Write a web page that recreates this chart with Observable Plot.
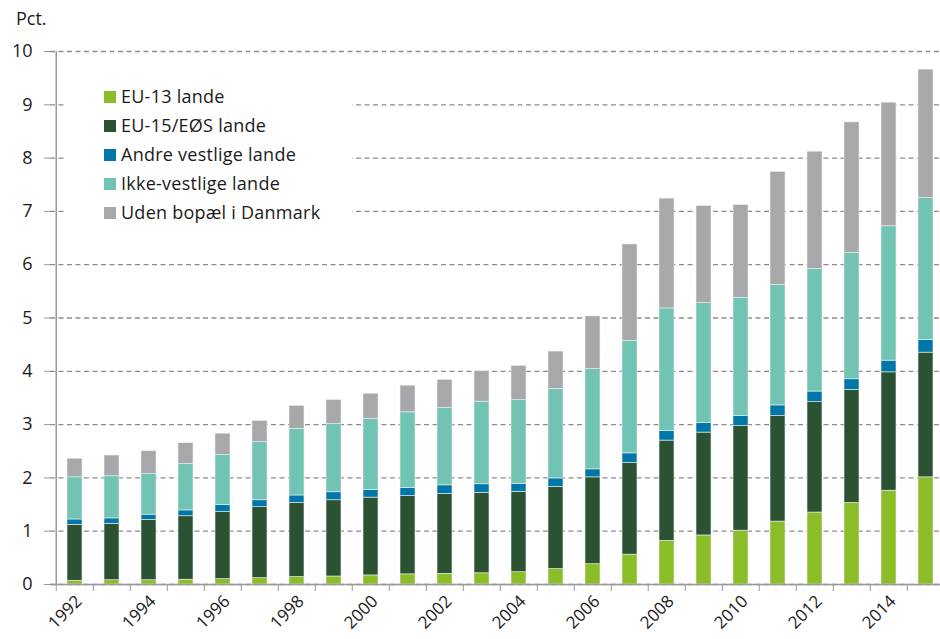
<!DOCTYPE html>
<html>
<head>
<meta charset="utf-8">
<script src="https://cdn.jsdelivr.net/npm/d3@7"></script>
<script src="https://cdn.jsdelivr.net/npm/@observablehq/plot@0.6"></script>
<style>
  html, body { margin: 0; padding: 0; background: #fff; }
  #wrap { position: relative; width: 940px; height: 639px; font-family: "Open Sans", sans-serif; color: #1a1a1a; }
  #pct { position: absolute; left: 16px; top: 6px; font-size: 18px; }
  #legend { position: absolute; left: 65px; top: 66px; width: 287px; height: 172px; background: #fff; }
  .row { position: absolute; left: 39px; font-size: 18px; line-height: 22px; white-space: nowrap; letter-spacing: 0.25px; }
  .sw { display: inline-block; width: 12px; height: 12px; margin-right: 5px; vertical-align: 0px; }
</style>
</head>
<body>
<div id="wrap"><div id="chart"></div><div id="pct">Pct.</div><div id="legend"></div></div>
<script>
const years = [1992,1993,1994,1995,1996,1997,1998,1999,2000,2001,2002,2003,2004,2005,2006,2007,2008,2009,2010,2011,2012,2013,2014,2015];
const eu13   = [0.07,0.08,0.08,0.09,0.10,0.12,0.14,0.15,0.17,0.19,0.20,0.21,0.23,0.29,0.38,0.56,0.82,0.92,1.01,1.18,1.35,1.53,1.76,2.01];
const eu15   = [1.05,1.06,1.13,1.19,1.26,1.33,1.39,1.43,1.46,1.47,1.50,1.51,1.51,1.54,1.63,1.72,1.88,1.93,1.96,1.98,2.07,2.12,2.22,2.34];
const andre  = [0.10,0.10,0.10,0.11,0.13,0.13,0.14,0.15,0.14,0.15,0.16,0.16,0.15,0.16,0.15,0.18,0.18,0.18,0.19,0.20,0.20,0.20,0.22,0.24];
const ikke   = [0.79,0.79,0.76,0.87,0.94,1.09,1.25,1.28,1.34,1.42,1.45,1.55,1.57,1.68,1.88,2.11,2.30,2.25,2.22,2.26,2.30,2.37,2.52,2.66];
const uden   = [0.35,0.39,0.43,0.39,0.40,0.40,0.43,0.45,0.47,0.50,0.53,0.57,0.64,0.70,0.99,1.81,2.06,1.82,1.74,2.12,2.20,2.45,2.32,2.41];
const seriesNames = ["EU-13 lande","EU-15/EØS lande","Andre vestlige lande","Ikke-vestlige lande","Uden bopæl i Danmark"];
const seriesColors = ["#8bbd28","#2c5234","#0077a8","#71c4b4","#a7a8aa"];
const yTicks = [0,1,2,3,4,5,6,7,8,9,10];
const labelYears = [1992,1994,1996,1998,2000,2002,2004,2006,2008,2010,2012,2014];

const seriesValues = [eu13, eu15, andre, ikke, uden];
const data = [];
seriesNames.forEach((s, si) => years.forEach((yr, i) => data.push({year: yr, series: s, value: seriesValues[si][i]})));

const chart = Plot.plot({
  width: 940, height: 639,
  marginTop: 51, marginBottom: 55, marginLeft: 50, marginRight: -10,
  style: {fontFamily: "'Open Sans', sans-serif", fontSize: "18px", color: "#1a1a1a", background: "transparent"},
  x: {type: "band", domain: years, paddingInner: 0.6, paddingOuter: 0.3, label: null},
  y: {domain: [0, 10], label: null},
  color: {domain: seriesNames, range: seriesColors},
  marks: [
    Plot.gridY(yTicks, {stroke: "#8c8c8c", strokeOpacity: 1, strokeWidth: 1.3, strokeDasharray: "5,3.5"}),
    Plot.barY(data, {x: "year", y: "value", fill: "series", order: seriesNames, stroke: "#eeeeee", strokeWidth: 0.6}),
    Plot.axisY(yTicks, {tickSize: 6, tickPadding: 12, stroke: "#999", fontSize: 18, tickFormat: d => String(d), label: null}),
    Plot.axisX(years, {tickSize: 7, tickFormat: () => "", dx: -18.75, stroke: "#999", label: null}),
    Plot.text(labelYears, {x: d => d, y: () => 0, text: d => String(d), rotate: -45, textAnchor: "end", lineAnchor: "middle", dx: 4, dy: 14, fontSize: 17, fill: "#1a1a1a"}),
    Plot.ruleY([0], {stroke: "#999", strokeWidth: 1.5}),
    Plot.ruleX([1992], {dx: -18.75, stroke: "#999", strokeWidth: 1.5})
  ]
});
document.getElementById("chart").appendChild(chart);

const legend = document.getElementById("legend");
seriesNames.forEach((s, i) => {
  const row = document.createElement("div");
  row.className = "row";
  row.style.top = (19 + i * 29) + "px";
  const sw = document.createElement("span");
  sw.className = "sw";
  sw.style.background = seriesColors[i];
  row.appendChild(sw);
  row.appendChild(document.createTextNode(s));
  legend.appendChild(row);
});
</script>
</body>
</html>
